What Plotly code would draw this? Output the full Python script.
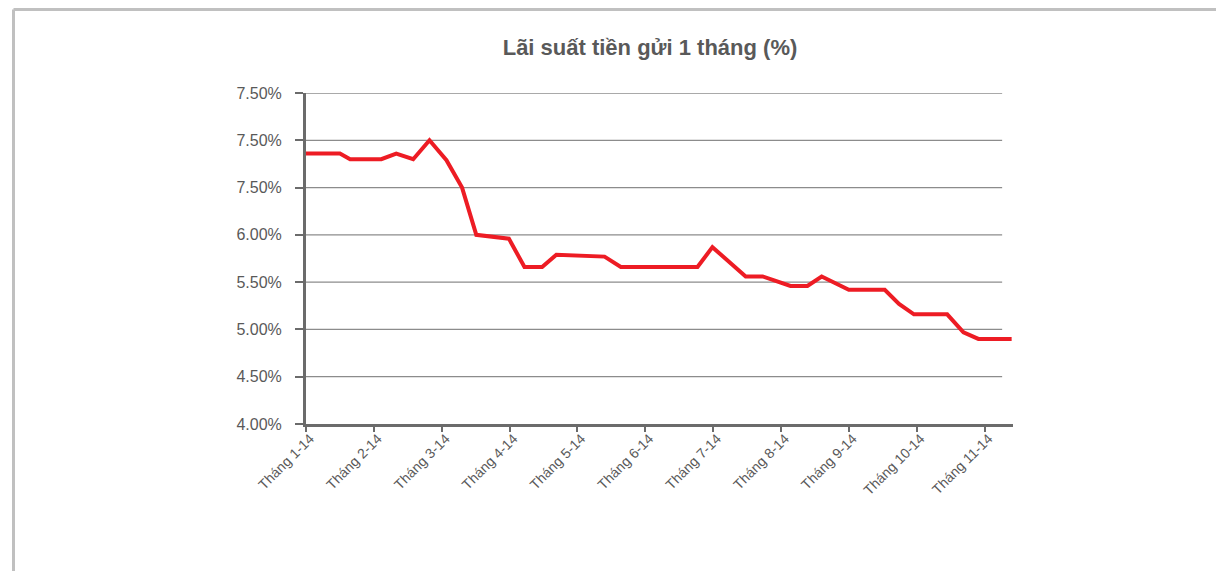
import plotly.graph_objects as go

# ---- data ----
month_labels = ["Tháng 1-14", "Tháng 2-14", "Tháng 3-14", "Tháng 4-14", "Tháng 5-14",
                "Tháng 6-14", "Tháng 7-14", "Tháng 8-14", "Tháng 9-14", "Tháng 10-14",
                "Tháng 11-14"]
month_pos = [0, 1, 2, 3, 4, 5, 6, 7, 8, 9, 10]

# observation position measured in months since Jan-2014
obs_month = [0.00, 0.50, 0.65, 1.11, 1.33, 1.58, 1.82, 2.07, 2.30, 2.51, 2.99,
             3.22, 3.48, 3.69, 4.40, 4.64, 5.77, 5.99, 6.48, 6.73, 7.14, 7.39,
             7.60, 8.00, 8.53, 8.74, 8.96, 9.45, 9.69, 9.91, 10.40]
rate = [6.86, 6.86, 6.80, 6.80, 6.86, 6.80, 7.00, 6.79, 6.50, 6.00, 5.96,
        5.66, 5.66, 5.79, 5.77, 5.66, 5.66, 5.87, 5.56, 5.56, 5.46, 5.46,
        5.56, 5.42, 5.42, 5.27, 5.16, 5.16, 4.97, 4.90, 4.90]

y_tickvals = [4.0, 4.5, 5.0, 5.5, 6.0, 6.5, 7.0, 7.5]
y_ticktext = ["4.00%", "4.50%", "5.00%", "5.50%", "6.00%", "7.50%", "7.50%", "7.50%"]

title_text = "Lãi suất tiền gửi 1 tháng (%)"

# ---- style ----
RED = "#ED1C24"
AXIS = "#6b6b6b"
GRID = "#8c8c8c"
TXT = "#595959"
W, H = 1224, 571
OFF = 8  # default page body margin
# plot-area box in window pixels
L, R, T, B = 306 - OFF, 1013 - OFF, 93 - OFF, 424 - OFF

fig = go.Figure()
fig.add_trace(go.Scatter(
    x=obs_month, y=rate, mode="lines",
    line=dict(color=RED, width=4), hoverinfo="x+y", showlegend=False,
))

# horizontal gridlines (stop a little before the right end of the x axis)
grid_end = 10.26
for v in y_tickvals[1:]:
    fig.add_shape(type="line", xref="x", yref="y", x0=0, x1=grid_end, y0=v, y1=v,
                  line=dict(color=GRID, width=1.3), layer="below")

# outer light-grey frame (top and left edges)
pw, ph = R - L, B - T
def px_x(p): return (p - OFF - L) / pw
def px_y(p): return (B - (p - OFF)) / ph
fig.add_shape(type="line", xref="paper", yref="paper",
              x0=px_x(13.5), x1=px_x(W + 20), y0=px_y(9.5), y1=px_y(9.5),
              line=dict(color="#c0c0c0", width=3))
fig.add_shape(type="line", xref="paper", yref="paper",
              x0=px_x(13.5), x1=px_x(13.5), y0=px_y(9.5), y1=px_y(H + 20),
              line=dict(color="#c0c0c0", width=3))

fig.update_layout(
    width=W, height=H,
    margin=dict(l=L, r=W - R, t=T, b=H - B, pad=0),
    paper_bgcolor="white", plot_bgcolor="white",
    title=dict(text="<b>" + title_text + "</b>", xref="container", yref="container",
               x=(650 - OFF) / W, y=1 - (47 - OFF) / H, xanchor="center", yanchor="middle",
               font=dict(family="Liberation Sans, Arial, sans-serif", size=22, color=TXT)),
    xaxis=dict(range=[0, 10.42], tickmode="array", tickvals=month_pos, ticktext=month_labels,
               tickangle=-45, showgrid=False, zeroline=False,
               showline=True, linecolor=AXIS, linewidth=3,
               ticks="outside", ticklen=5, tickwidth=2, tickcolor=AXIS,
               ticklabelstandoff=-7, ticklabelshift=4,
               tickfont=dict(family="Liberation Sans, Arial, sans-serif", size=14, color=TXT)),
    yaxis=dict(range=[4.0, 7.5], tickmode="array", tickvals=y_tickvals, ticktext=y_ticktext,
               showgrid=False, zeroline=False,
               showline=True, linecolor=AXIS, linewidth=3,
               ticks="outside", ticklen=8, tickwidth=2, tickcolor=AXIS,
               ticklabelstandoff=10,
               tickfont=dict(family="Liberation Sans, Arial, sans-serif", size=16, color=TXT)),
)

fig.write_html("out.html")
